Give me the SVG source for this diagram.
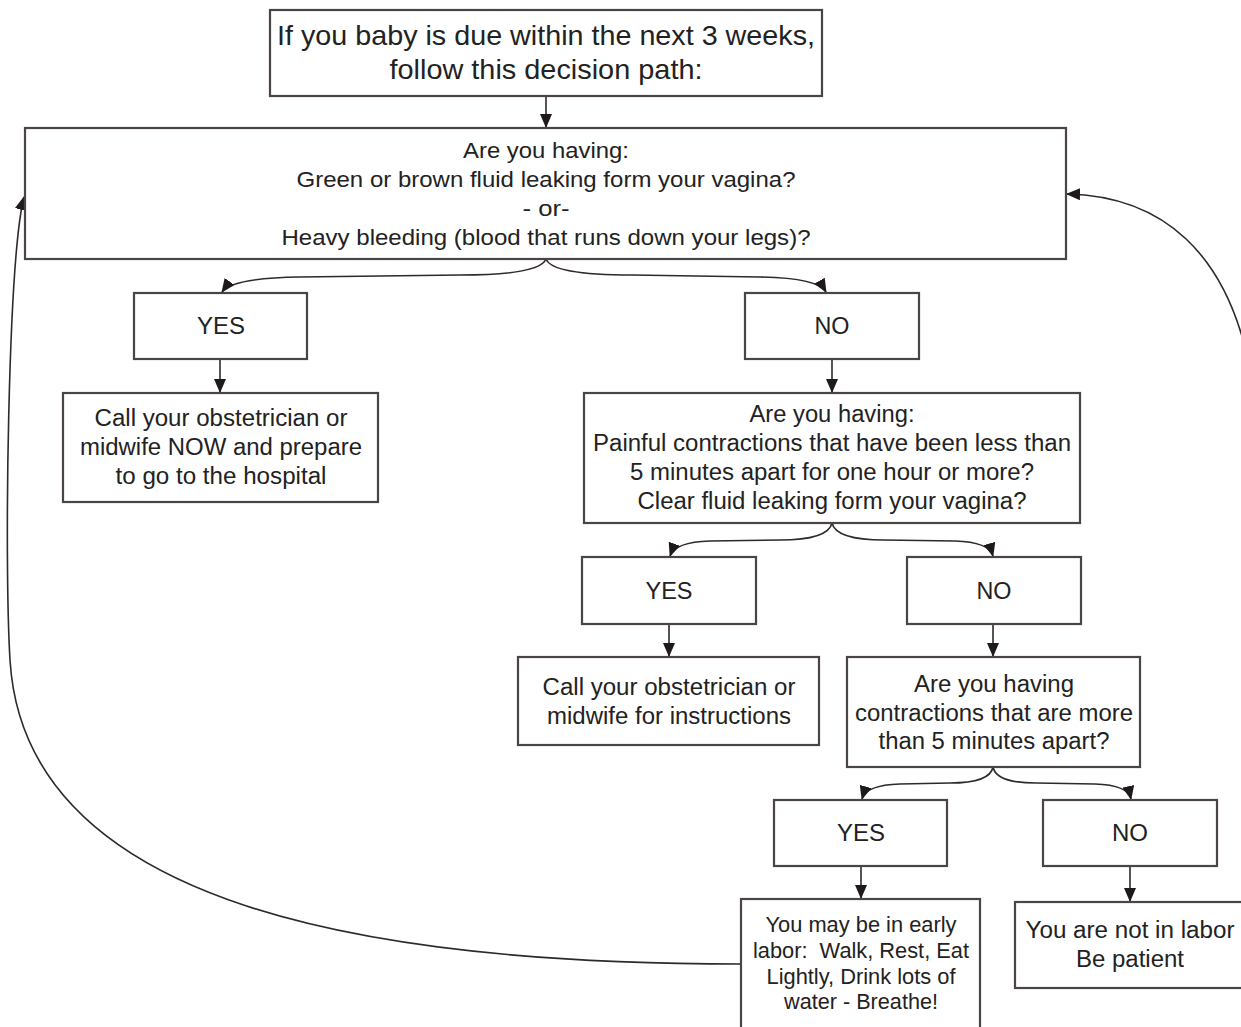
<svg xmlns="http://www.w3.org/2000/svg" width="1241" height="1027" viewBox="0 0 1241 1027">
<style>
.box{fill:#fff;stroke:#4a4444;stroke-width:2.2}
.t{font-family:"Liberation Sans",Arial,sans-serif;fill:#222;text-anchor:middle}
.c{fill:none;stroke:#2e2a2a;stroke-width:1.6}
</style>
<defs>
<marker id="ah" markerUnits="userSpaceOnUse" markerWidth="14" markerHeight="12" viewBox="0 0 14 12" refX="13" refY="6" orient="auto">
<path d="M0,0 L14,6 L0,12 Z" fill="#1e1a1a"/>
</marker>
</defs>
<rect width="1241" height="1027" fill="#fff"/>
<g id="connectors">
<path class="c" d="M546,96 L546,127" marker-end="url(#ah)"/>
<path class="c" d="M546,259 Q540,275 460,275 L300,277 Q232,278 222,292" marker-end="url(#ah)"/>
<path class="c" d="M546,259 Q552,275 632,275 L760,277 Q818,278 826,292" marker-end="url(#ah)"/>
<path class="c" d="M220,359 L220,392" marker-end="url(#ah)"/>
<path class="c" d="M832,359 L832,392" marker-end="url(#ah)"/>
<path class="c" d="M832,523 Q828,540 780,540 L710,541 Q675,542 670,556" marker-end="url(#ah)"/>
<path class="c" d="M832,523 Q836,540 884,540 L955,541 Q989,542 993,556" marker-end="url(#ah)"/>
<path class="c" d="M669,624 L669,656" marker-end="url(#ah)"/>
<path class="c" d="M993,624 L993,656" marker-end="url(#ah)"/>
<path class="c" d="M993,767 Q990,783 950,783 L900,784 Q866,785 862,799" marker-end="url(#ah)"/>
<path class="c" d="M993,767 Q996,783 1036,783 L1095,784 Q1128,785 1131,799" marker-end="url(#ah)"/>
<path class="c" d="M861,866 L861,898" marker-end="url(#ah)"/>
<path class="c" d="M1130,866 L1130,901" marker-end="url(#ah)"/>
<path class="c" d="M741,964 C380,964 25,910 10,660 C4,560 8,260 24,197" marker-end="url(#ah)"/>
<path class="c" d="M1252,380 C1230,250 1160,196 1067,194" marker-end="url(#ah)"/>
</g>
<g id="n0"><rect class="box" x="270" y="10" width="552" height="86"/>
<text class="t" font-size="28" x="546" y="45" textLength="538" lengthAdjust="spacingAndGlyphs">If you baby is due within the next 3 weeks,</text>
<text class="t" font-size="28" x="546" y="79" textLength="313" lengthAdjust="spacingAndGlyphs">follow this decision path:</text></g>
<g id="n1"><rect class="box" x="25" y="128" width="1041" height="131"/>
<text class="t" font-size="22.5" x="546" y="158" textLength="166" lengthAdjust="spacingAndGlyphs">Are you having:</text>
<text class="t" font-size="22.5" x="546" y="187" textLength="499" lengthAdjust="spacingAndGlyphs">Green or brown fluid leaking form your vagina?</text>
<text class="t" font-size="22.5" x="546" y="216" textLength="47" lengthAdjust="spacingAndGlyphs">- or-</text>
<text class="t" font-size="22.5" x="546" y="245" textLength="529" lengthAdjust="spacingAndGlyphs">Heavy bleeding (blood that runs down your legs)?</text></g>
<g id="n2"><rect class="box" x="134" y="293" width="173" height="66"/>
<text class="t" font-size="23" x="221" y="334" textLength="48" lengthAdjust="spacingAndGlyphs">YES</text></g>
<g id="n3"><rect class="box" x="745" y="293" width="174" height="66"/>
<text class="t" font-size="23" x="832" y="334" textLength="35" lengthAdjust="spacingAndGlyphs">NO</text></g>
<g id="n4"><rect class="box" x="63" y="393" width="315" height="109"/>
<text class="t" font-size="23" x="221" y="426" textLength="253" lengthAdjust="spacingAndGlyphs">Call your obstetrician or</text>
<text class="t" font-size="23" x="221" y="455" textLength="282" lengthAdjust="spacingAndGlyphs">midwife NOW and prepare</text>
<text class="t" font-size="23" x="221" y="484" textLength="211" lengthAdjust="spacingAndGlyphs">to go to the hospital</text></g>
<g id="n5"><rect class="box" x="584" y="393" width="496" height="130"/>
<text class="t" font-size="23" x="832" y="422" textLength="165" lengthAdjust="spacingAndGlyphs">Are you having:</text>
<text class="t" font-size="23" x="832" y="451" textLength="478" lengthAdjust="spacingAndGlyphs">Painful contractions that have been less than</text>
<text class="t" font-size="23" x="832" y="480" textLength="404" lengthAdjust="spacingAndGlyphs">5 minutes apart for one hour or more?</text>
<text class="t" font-size="23" x="832" y="509" textLength="389" lengthAdjust="spacingAndGlyphs">Clear fluid leaking form your vagina?</text></g>
<g id="n6"><rect class="box" x="582" y="557" width="174" height="67"/>
<text class="t" font-size="23" x="669" y="599" textLength="47" lengthAdjust="spacingAndGlyphs">YES</text></g>
<g id="n7"><rect class="box" x="907" y="557" width="174" height="67"/>
<text class="t" font-size="23" x="994" y="599" textLength="35" lengthAdjust="spacingAndGlyphs">NO</text></g>
<g id="n8"><rect class="box" x="518" y="657" width="301" height="88"/>
<text class="t" font-size="23" x="669" y="695" textLength="253" lengthAdjust="spacingAndGlyphs">Call your obstetrician or</text>
<text class="t" font-size="23" x="669" y="724" textLength="244" lengthAdjust="spacingAndGlyphs">midwife for instructions</text></g>
<g id="n9"><rect class="box" x="847" y="657" width="293" height="110"/>
<text class="t" font-size="23" x="994" y="692" textLength="160" lengthAdjust="spacingAndGlyphs">Are you having</text>
<text class="t" font-size="23" x="994" y="721" textLength="278" lengthAdjust="spacingAndGlyphs">contractions that are more</text>
<text class="t" font-size="23" x="994" y="749" textLength="231" lengthAdjust="spacingAndGlyphs">than 5 minutes apart?</text></g>
<g id="n10"><rect class="box" x="774" y="800" width="173" height="66"/>
<text class="t" font-size="23" x="861" y="841" textLength="48" lengthAdjust="spacingAndGlyphs">YES</text></g>
<g id="n11"><rect class="box" x="1043" y="800" width="174" height="66"/>
<text class="t" font-size="23" x="1130" y="841" textLength="36" lengthAdjust="spacingAndGlyphs">NO</text></g>
<g id="n12"><rect class="box" x="741" y="899" width="239" height="140"/>
<text class="t" font-size="21.5" x="861" y="932" textLength="191" lengthAdjust="spacingAndGlyphs">You may be in early</text>
<text class="t" font-size="21.5" x="861" y="958" textLength="216" lengthAdjust="spacingAndGlyphs" xml:space="preserve">labor:  Walk, Rest, Eat</text>
<text class="t" font-size="21.5" x="861" y="984" textLength="189" lengthAdjust="spacingAndGlyphs">Lightly, Drink lots of</text>
<text class="t" font-size="21.5" x="861" y="1009" textLength="154" lengthAdjust="spacingAndGlyphs">water - Breathe!</text></g>
<g id="n13"><rect class="box" x="1015" y="902" width="240" height="86"/>
<text class="t" font-size="23" x="1130" y="938" textLength="209" lengthAdjust="spacingAndGlyphs">You are not in labor</text>
<text class="t" font-size="23" x="1130" y="967" textLength="108" lengthAdjust="spacingAndGlyphs">Be patient</text></g>
</svg>
